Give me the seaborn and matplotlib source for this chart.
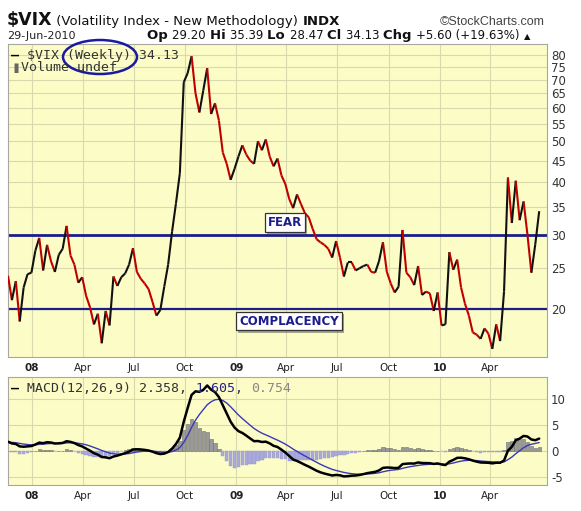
import numpy as np
import pandas as pd
import matplotlib
matplotlib.use('Agg')
import matplotlib.pyplot as plt
import matplotlib.dates as mdates
import matplotlib.patheffects as pe
from matplotlib.collections import LineCollection
from matplotlib.patches import Ellipse
from matplotlib.ticker import FixedLocator, NullLocator, FuncFormatter
import seaborn as sns

# weekly closes of $VIX, week of 19-Nov-2007 .. week of 28-Jun-2010
week_start = '2007-11-19'
vix_close = [
    24.0, 21.0, 23.3, 18.7, 22.5, 24.2, 24.4, 27.5, 29.5, 24.7,
    28.4, 26.0, 24.5, 26.9, 27.8, 31.5, 26.8, 25.5, 23.1, 23.8,
    21.5, 20.2, 18.4, 19.5, 16.6, 19.8, 18.3, 23.9, 22.7, 23.8,
    24.3, 25.5, 27.9, 24.5, 23.6, 23.0, 22.3, 20.8, 19.3, 19.9,
    22.6, 25.5, 30.5, 35.6, 42.0, 69.0, 72.5, 79.5, 65.0, 58.5,
    66.0, 74.5, 58.0, 61.5, 56.0, 47.0, 44.2, 40.5, 43.0, 46.0,
    48.9, 46.5, 45.0, 44.2, 50.0, 47.6, 50.5, 46.0, 43.6, 45.5,
    41.5, 39.6, 36.5, 34.7, 37.4, 35.5, 33.8, 33.0, 31.0, 29.3,
    28.8, 28.4, 27.8, 26.5, 29.0, 26.5, 23.9, 25.8, 25.8, 24.7,
    25.0, 25.3, 25.5, 24.5, 24.4, 26.0, 28.8, 24.5, 23.0, 21.9,
    22.6, 30.8, 24.4, 23.8, 22.8, 25.3, 21.6, 22.0, 21.8, 19.8,
    21.9, 18.3, 18.4, 27.3, 24.8, 26.2, 22.5, 20.6, 19.3, 17.6,
    17.4, 17.0, 18.0, 17.5, 16.1, 18.4, 16.8, 22.0, 41.0, 32.0,
    40.3, 32.5, 36.0, 30.0, 24.4, 28.5, 34.13,
]
fear_level = 30
complacency_level = 20
main_ticks = [20, 25, 30, 35, 40, 45, 50, 55, 60, 65, 70, 75, 80]
macd_ticks = [-5, 0, 5, 10]
quarter_labels = ['08', 'Apr', 'Jul', 'Oct', '09', 'Apr', 'Jul', 'Oct', '10', 'Apr']
ema_seed = {'fast': 23.5, 'slow': 21.6, 'signal': 1.7}

W, H = 581, 511
BG = '#fcfcc6'
GRID = '#d9d9ae'
NAVY = '#1c1c8c'

sns.set_style('white')
plt.rcParams['font.family'] = ['DejaVu Sans']

df = pd.DataFrame({'date': pd.date_range(week_start, periods=len(vix_close), freq='7D'),
                   'close': vix_close})


def ema(values, span, start):
    a = 2.0 / (span + 1)
    out, e = [], start
    for v in values:
        e = e + a * (v - e)
        out.append(e)
    return np.array(out)


df['macd'] = ema(df['close'], 12, ema_seed['fast']) - ema(df['close'], 26, ema_seed['slow'])
df['signal'] = ema(df['macd'], 9, ema_seed['signal'])
df['hist'] = df['macd'] - df['signal']

fig = plt.figure(figsize=(W / 100, H / 100), dpi=100)
fig.patch.set_facecolor('white')


def px_axes(left, top, right, bottom):
    return fig.add_axes([left / W, 1 - bottom / H, (right - left) / W, (bottom - top) / H])


ax = px_axes(8, 44, 547, 357)
ax2 = px_axes(8, 377, 547, 485)

xlim = mdates.date2num([pd.Timestamp('2007-11-19'), pd.Timestamp('2010-07-12')])
qdates = mdates.date2num(pd.date_range('2008-01-01', '2010-04-01', freq='QS'))

# --- price panel (log scale) ---
ax.set_yscale('log')
ax.set_ylim(15.4, 85)
ax.yaxis.set_major_locator(FixedLocator(main_ticks))
ax.yaxis.set_minor_locator(NullLocator())

ax.axhline(fear_level, color=NAVY, lw=2.0, zorder=2)
ax.axhline(complacency_level, color=NAVY, lw=1.6, zorder=2)

xn = mdates.date2num(df['date'])
pts = np.column_stack([xn, df['close']])
segs = np.stack([pts[:-1], pts[1:]], axis=1)
seg_colors = ['#c00000' if b < a_ else '#111111' for a_, b in zip(df['close'][:-1], df['close'][1:])]
ax.add_collection(LineCollection(segs, colors=seg_colors, linewidths=1.5, zorder=3))

for txt, xf, yf in [('FEAR', 0.514, 0.431), ('COMPLACENCY', 0.521, 0.115)]:
    t = ax.text(xf, yf, txt, transform=ax.transAxes, ha='center', va='center',
                fontsize=8.5, fontweight='bold', color=NAVY, zorder=5,
                bbox=dict(boxstyle='square,pad=0.25', fc='white', ec='#333333', lw=0.9))
    t.get_bbox_patch().set_path_effects([pe.SimplePatchShadow(offset=(1.5, -1.5), alpha=0.5), pe.Normal()])

# --- MACD panel ---
pos = df['hist'] >= 0
ax2.bar(df['date'][pos], df['hist'][pos], width=6, color='#9a9a9a', edgecolor='#6e6e6e', lw=0.4, zorder=2)
ax2.bar(df['date'][~pos], df['hist'][~pos], width=6, color='#a9a9da', edgecolor='#9a9ad0', lw=0.3, zorder=2)
sns.lineplot(data=df, x='date', y='signal', ax=ax2, color='#3a3ab4', lw=1.0, zorder=3)
sns.lineplot(data=df, x='date', y='macd', ax=ax2, color='black', lw=1.8, zorder=4)
ax2.set_ylim(-6.5, 14.2)
ax2.yaxis.set_major_locator(FixedLocator(macd_ticks))

for a in (ax, ax2):
    a.set_facecolor(BG)
    a.set_xlim(xlim)
    a.xaxis.set_major_locator(FixedLocator(qdates))
    a.set_xticklabels(quarter_labels)
    for lab, txt in zip(a.get_xticklabels(), quarter_labels):
        if txt.isdigit():
            lab.set_fontweight('bold')
    a.yaxis.set_major_formatter(FuncFormatter(lambda v, p: f'{v:.0f}'.replace('\u2212', '-')))
    a.tick_params(axis='x', length=0, pad=4, labelsize=7.5, colors='#222222')
    a.tick_params(axis='y', length=0, pad=3, labelsize=8.5, colors='#333333')
    a.yaxis.tick_right()
    a.grid(True, color=GRID, lw=0.8)
    a.set_axisbelow(True)
    for s in a.spines.values():
        s.set_color('#a8a8a0')
        s.set_linewidth(0.8)
    a.set_xlabel('')
    a.set_ylabel('')

# --- header / legends ---
fig.canvas.draw()
rend = fig.canvas.get_renderer()


def run(x, y, parts, **kw):
    for s, props in parts:
        t = fig.text(x / W, 1 - y / H, s, va='baseline', **{**kw, **props})
        x += t.get_window_extent(renderer=rend).width
    return x


run(7, 25, [('$VIX', dict(fontsize=12.5, fontweight='bold')),
            (' (Volatility Index - New Methodology) ', dict(fontsize=9.5)),
            ('INDX', dict(fontsize=9.5, fontweight='bold'))], color='#111111')
fig.text(545 / W, 1 - 25 / H, '\u00a9StockCharts.com', ha='right', va='baseline', fontsize=9,
         color='#444444', family='Liberation Sans')
run(7, 39, [('29-Jun-2010', dict(fontsize=8))], color='#222222')
run(147, 39, [('Op ', dict(fontweight='bold', fontsize=9.5)), ('29.20 ', dict(fontsize=8.5)),
              ('Hi ', dict(fontweight='bold', fontsize=9.5)), ('35.39 ', dict(fontsize=8.5)),
              ('Lo ', dict(fontweight='bold', fontsize=9.5)), ('28.47 ', dict(fontsize=8.5)),
              ('Cl ', dict(fontweight='bold', fontsize=9.5)), ('34.13 ', dict(fontsize=8.5)),
              ('Chg ', dict(fontweight='bold', fontsize=9.5)), ('+5.60 (+19.63%) ', dict(fontsize=8.5)),
              ('\u25b2', dict(fontsize=6))], color='#111111')

mono = dict(family='DejaVu Sans Mono', fontsize=9.5)
run(11, 59, [('\u2014 ', dict(fontweight='bold', color='black')),
             ('$VIX (Weekly) 34.13', dict(color='#333333'))], **mono)
run(11, 71, [('\u2590\u258c', dict(color='#666666', fontsize=6)),
             ('Volume undef', dict(color='#333333'))], **mono)
run(11, 392, [('\u2014 ', dict(fontweight='bold', color='black')),
              ('MACD(12,26,9) 2.358, ', dict(color='#333333')),
              ('1.605', dict(color='#22228a')), (', ', dict(color='#333333')),
              ('0.754', dict(color='#888888'))], **mono)

fig.add_artist(Ellipse((100 / W, 1 - 57 / H), 74 / W, 34 / H, fill=False, ec='#1a1aa0', lw=1.8,
                       transform=fig.transFigure))

fig.savefig('out.png', dpi=100)
